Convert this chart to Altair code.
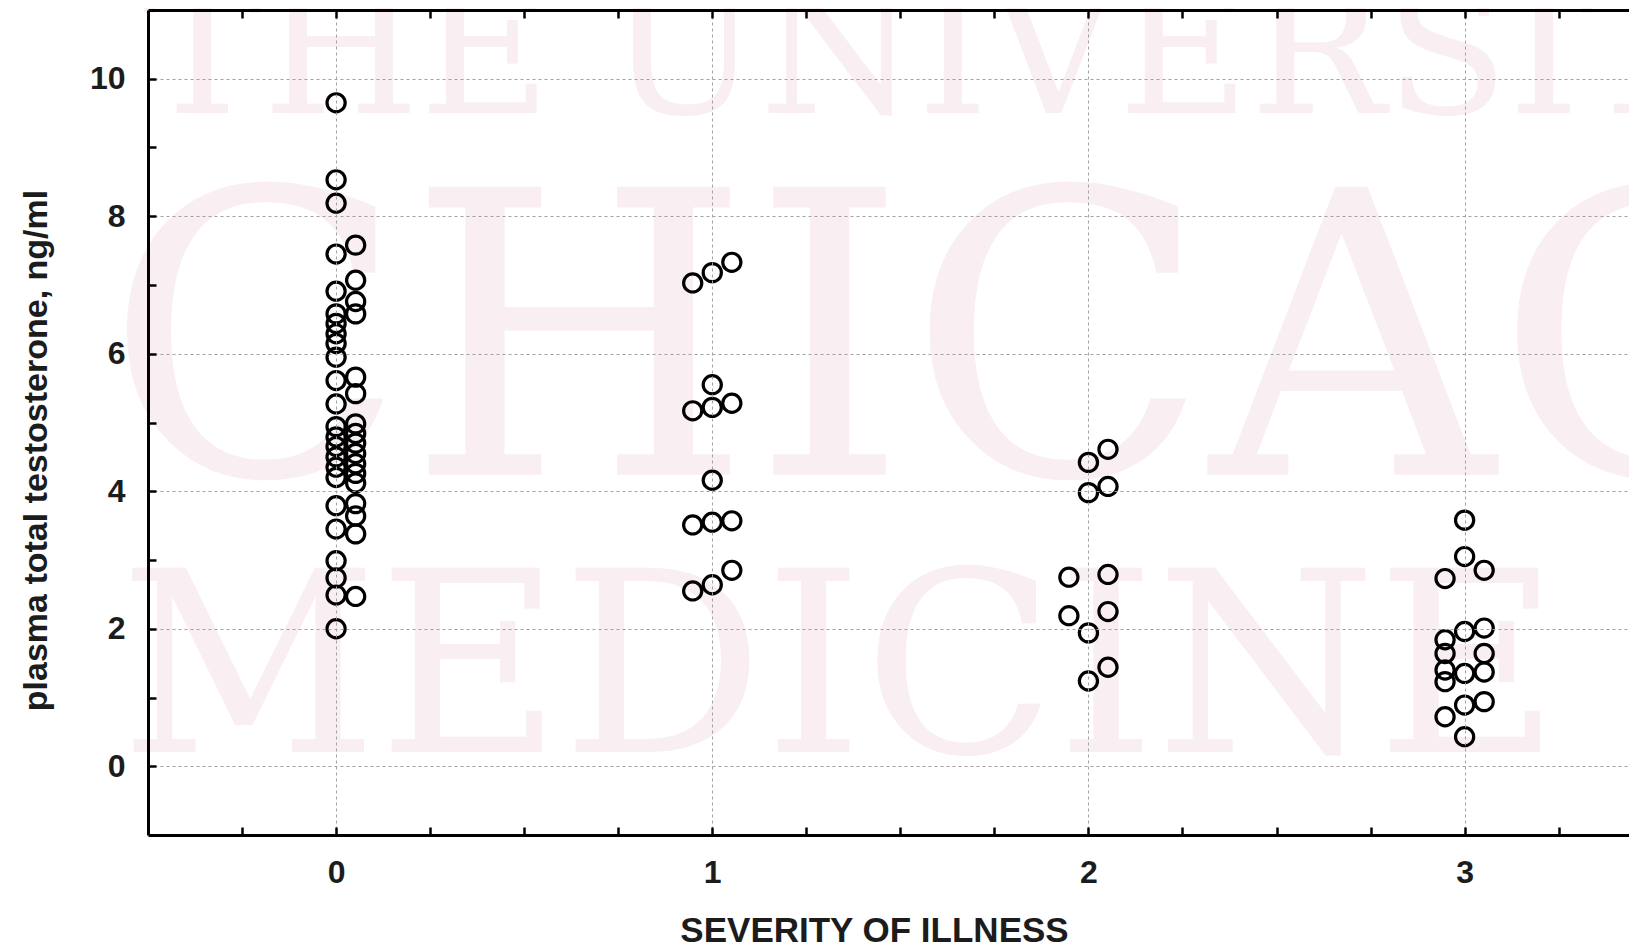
import altair as alt
import pandas as pd

# ---------------- data ----------------
SEVERITY_LEVELS = [0, 1, 2, 3]

# plasma total testosterone (ng/ml), per severity group, split by column of the dot stack
G0_LEFT = []
G0_MID = [9.65, 8.53, 8.19, 7.45, 6.91, 6.58, 6.44, 6.29, 6.15, 5.95, 5.61, 5.27,
          4.94, 4.79, 4.65, 4.50, 4.35, 4.20, 3.79, 3.45, 2.99, 2.74, 2.49, 2.00]
G0_RIGHT = [7.58, 7.07, 6.76, 6.58, 5.66, 5.42, 4.98, 4.84, 4.70, 4.55, 4.40,
            4.26, 4.12, 3.82, 3.64, 3.38, 2.47]

G1_LEFT = [7.03, 5.17, 3.51, 2.55]
G1_MID = [7.18, 5.55, 5.22, 4.16, 3.55, 2.64]
G1_RIGHT = [7.33, 5.28, 3.57, 2.85]

G2_LEFT = [2.75, 2.19]
G2_MID = [4.42, 3.98, 1.94, 1.24]
G2_RIGHT = [4.61, 4.07, 2.79, 2.25, 1.44]

G3_LEFT = [2.73, 1.84, 1.64, 1.40, 1.23, 0.72]
G3_MID = [3.58, 3.05, 1.96, 1.35, 0.89, 0.43]
G3_RIGHT = [2.85, 2.01, 1.64, 1.37, 0.94]

COLUMN_SLOTS = [-1, 0, 1]
GROUPS = [
    (G0_LEFT, G0_MID, G0_RIGHT),
    (G1_LEFT, G1_MID, G1_RIGHT),
    (G2_LEFT, G2_MID, G2_RIGHT),
    (G3_LEFT, G3_MID, G3_RIGHT),
]

X_LABEL_VALUES = [0, 1, 2, 3]
X_TICK_VALUES = [-0.25, 0, 0.25, 0.5, 0.75, 1, 1.25, 1.5, 1.75, 2, 2.25, 2.5, 2.75, 3, 3.25]
Y_LABEL_VALUES = [0, 2, 4, 6, 8, 10]
Y_TICK_VALUES = [0, 1, 2, 3, 4, 5, 6, 7, 8, 9, 10]

X_TITLE = "SEVERITY OF ILLNESS"
Y_TITLE = "plasma total testosterone, ng/ml"
WATERMARK = ["THE UNIVERSITY", "CHICAGO", "MEDICINE"]

# ---------------- table ----------------
rows = []
for sev, cols in zip(SEVERITY_LEVELS, GROUPS):
    for slot, vals in zip(COLUMN_SLOTS, cols):
        for v in vals:
            rows.append({"severity": sev, "slot": slot, "testosterone": v})
df = pd.DataFrame(rows)
SLOT_STEP = 0.052
df["xpos"] = df["severity"] + df["slot"] * SLOT_STEP

# ---------------- layout ----------------
W, H = 1481, 825
X_DOMAIN = [-0.5, 3.437]
Y_DOMAIN = [-1, 11]
FONT = "Liberation Sans"
TXT = "#1c1c1c"
GRID = "#a2a2a2"
WM_COLOR = "#f9eef2"

x_scale = alt.Scale(domain=X_DOMAIN, nice=False, zero=False)
y_scale = alt.Scale(domain=Y_DOMAIN, nice=False, zero=False)

frame_axis = dict(domain=True, domainColor="black", domainWidth=3,
                  ticks=True, tickColor="black", tickWidth=2.5, tickSize=8,
                  labels=False, grid=False, zindex=2)

# watermark
def wm_layer(text, xd, yd, fs):
    return alt.Chart(pd.DataFrame({"t": [text]})).mark_text(
        align="left", baseline="alphabetic", font="DejaVu Serif",
        fontSize=fs, color=WM_COLOR
    ).encode(
        x=alt.XDatum(xd, type="quantitative", scale=x_scale, axis=None),
        y=alt.YDatum(yd, type="quantitative", scale=y_scale, axis=None),
        text="t:N",
    )

wm1 = wm_layer(WATERMARK[0], -0.515, 9.50, 180)
wm2 = wm_layer(WATERMARK[1], -0.615, 4.24, 395)
wm3 = wm_layer(WATERMARK[2], -0.575, 0.21, 252)

# bottom + left border with inward ticks
frame_b = alt.Chart(df).mark_point(opacity=0).encode(
    x=alt.X("xpos:Q", scale=x_scale, title="",
            axis=alt.Axis(orient="top", offset=-H, values=X_TICK_VALUES, **frame_axis)),
    y=alt.Y("testosterone:Q", scale=y_scale, title="",
            axis=alt.Axis(orient="right", offset=-W, values=Y_TICK_VALUES, **frame_axis)),
)

# top border with inward ticks
frame_t = alt.Chart(df).mark_point(opacity=0).encode(
    x=alt.X("xpos:Q", scale=x_scale, title="",
            axis=alt.Axis(orient="bottom", offset=-H, values=X_TICK_VALUES, **frame_axis)),
    y=alt.Y("testosterone:Q", scale=y_scale, axis=None),
)

points = alt.Chart(df).mark_point(
    shape="circle", filled=False, size=330, strokeWidth=3.2, color="black", opacity=1
).encode(
    x=alt.X("xpos:Q", scale=x_scale, title=X_TITLE,
            axis=alt.Axis(orient="bottom", values=X_LABEL_VALUES, format="d",
                          grid=True, gridDash=[3, 3], gridColor=GRID, gridWidth=1,
                          domain=False, ticks=False,
                          labelFont=FONT, labelFontSize=32, labelFontWeight="bold",
                          labelColor=TXT, labelPadding=47, labelBaseline="alphabetic",
                          titleFont=FONT, titleFontSize=35, titleFontWeight="bold",
                          titleColor=TXT, titleX=726, titleY=106,
                          titleAlign="center", titleBaseline="alphabetic", zindex=1)),
    y=alt.Y("testosterone:Q", scale=y_scale, title=Y_TITLE,
            axis=alt.Axis(orient="left", values=Y_LABEL_VALUES, format="d",
                          grid=True, gridDash=[3, 3], gridColor=GRID, gridWidth=1,
                          domain=False, ticks=False,
                          labelFont=FONT, labelFontSize=32, labelFontWeight="bold",
                          labelColor=TXT, labelPadding=23,
                          titleFont=FONT, titleFontSize=34, titleFontWeight="bold",
                          titleColor=TXT, titleAngle=270, titleX=-102, titleY=440,
                          titleAlign="center", titleBaseline="alphabetic", zindex=1)),
)

chart = alt.layer(wm1, wm2, wm3, frame_b, frame_t, points).resolve_axis(
    x="independent", y="independent"
).properties(
    width=W, height=H,
    padding={"left": 140, "top": 2, "right": 0, "bottom": 108},
    autosize=alt.AutoSizeParams(type="none"),
    background="white",
).configure_view(stroke="transparent")

chart.save("out.html", embed_options={"renderer": "svg", "actions": False})
